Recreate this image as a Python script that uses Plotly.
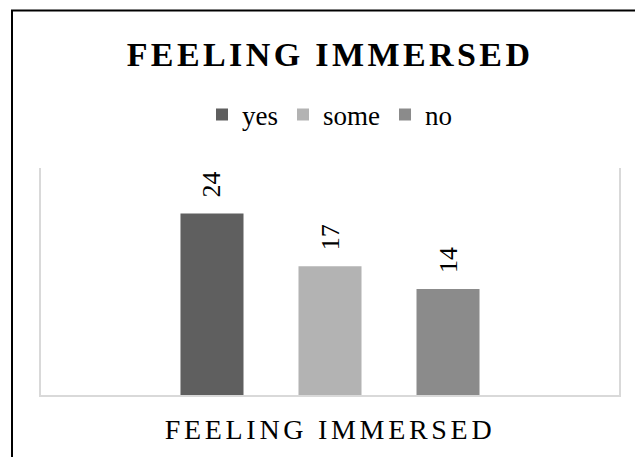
import plotly.graph_objects as go

# Survey answers for "feeling immersed"
category = ["FEELING IMMERSED"]
series_names = ["yes", "some", "no"]
series_values = [[24], [17], [14]]
series_colors = ["#5f5f5f", "#b3b3b3", "#8b8b8b"]

SERIF = "Liberation Serif"
NBSP = "\u00a0"

fig = go.Figure()
for name, vals, color in zip(series_names, series_values, series_colors):
    fig.add_trace(go.Bar(
        name=name,
        x=category,
        y=vals,
        marker=dict(color=color, line=dict(width=0)),
        text=[NBSP * 2 + str(v) for v in vals],
        textposition="outside",
        textangle=-90,
        constraintext="none",
        cliponaxis=False,
        textfont=dict(family=SERIF, size=26, color="#000000"),
        hoverinfo="skip",
    ))

W, H = 635, 457
ML, MR, MT, MB = 41, 16, 168, 62
pw, ph = W - ML - MR, H - MT - MB


def px_x(p):
    return (p - ML) / pw


def px_y(p):
    return (H - MB - p) / ph


fig.update_layout(
    width=W,
    height=H,
    margin=dict(l=ML, r=MR, t=MT, b=MB, pad=0, autoexpand=False),
    paper_bgcolor="white",
    plot_bgcolor="white",
    barmode="group",
    bargap=0.3875,
    bargroupgap=0.466,
    title=dict(
        text="<b>FEELING IMMERSED</b>",
        font=dict(family=SERIF, size=34, color="#000000"),
        xref="paper", x=0.5, xanchor="center",
        yref="container", y=1 - 54 / H, yanchor="middle",
    ),
    legend=dict(
        orientation="h",
        xref="paper", x=0.5, xanchor="center",
        yref="paper", y=px_y(115), yanchor="middle",
        font=dict(family=SERIF, size=27, color="#000000"),
        bgcolor="rgba(0,0,0,0)",
        itemclick=False,
    ),
    xaxis=dict(
        showline=True, linecolor="#d9d9d9", linewidth=2,
        showgrid=False, ticks="",
        tickfont=dict(family=SERIF, size=28, color="#000000"),
        ticklabelstandoff=8,
        automargin=False,
        fixedrange=True,
    ),
    yaxis=dict(
        range=[0, 30],
        showline=True, mirror=True, linecolor="#d9d9d9", linewidth=2,
        showgrid=False, zeroline=False, showticklabels=False, ticks="",
        automargin=False,
        fixedrange=True,
    ),
    showlegend=True,
)

# Outer frame of the chart (left and top edges)
fig.add_shape(type="line", xref="paper", yref="paper",
              x0=px_x(12), x1=px_x(12), y0=px_y(10.5), y1=px_y(H + 5),
              line=dict(color="#000000", width=2))
fig.add_shape(type="line", xref="paper", yref="paper",
              x0=px_x(11), x1=px_x(W + 5), y0=px_y(10.5), y1=px_y(10.5),
              line=dict(color="#000000", width=2))

post = """
var gd = document.getElementById('{plot_id}');
function spread() {
  gd.querySelectorAll('.gtitle').forEach(function (t) { t.style.letterSpacing = '3.4px'; });
  gd.querySelectorAll('.xtick text').forEach(function (t) { t.style.letterSpacing = '3.7px'; });
}
spread();
gd.on('plotly_afterplot', spread);
"""

fig.write_html("out.html", post_script=post, config={"displayModeBar": False})
